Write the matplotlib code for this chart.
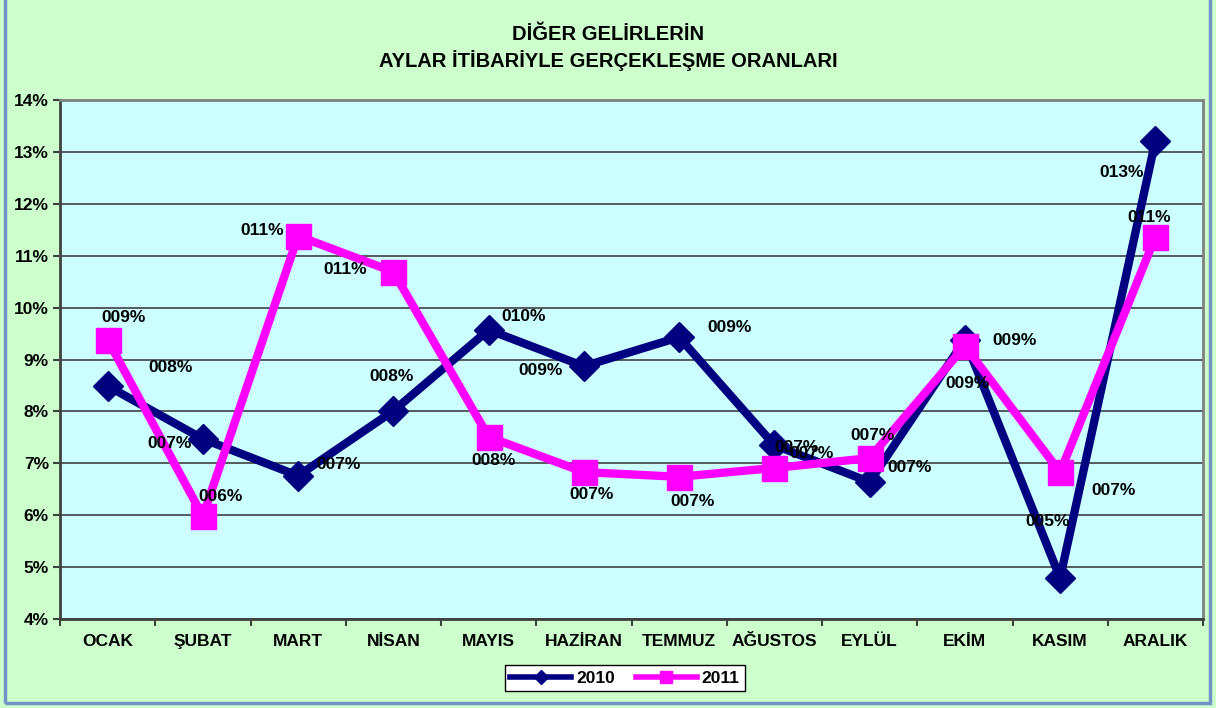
import matplotlib
matplotlib.use("Agg")
import matplotlib.pyplot as plt
from matplotlib.ticker import FixedLocator, FuncFormatter
from matplotlib.patches import Rectangle

plt.rcParams['font.family'] = ['Liberation Sans', 'DejaVu Sans']
plt.rcParams['font.weight'] = 'bold'

months = ["OCAK", "ŞUBAT", "MART", "NİSAN", "MAYIS", "HAZİRAN", "TEMMUZ",
          "AĞUSTOS", "EYLÜL", "EKİM", "KASIM", "ARALIK"]
y2010 = [8.49, 7.47, 6.76, 8.01, 9.57, 8.87, 9.43, 7.35, 6.64, 9.38, 4.79, 13.21]
y2011 = [9.38, 5.98, 11.38, 10.69, 7.51, 6.83, 6.74, 6.91, 7.10, 9.26, 6.83, 11.36]
series_names = ["2010", "2011"]
title = "DİĞER GELİRLERİN\nAYLAR İTİBARİYLE GERÇEKLEŞME ORANLARI"

# label offsets (pixels) for data labels
off2010 = [(63, 18), (-33, -5), (40, 11), (-2, 34), (35, 13), (-43, -4),
           (50, 10), (22, -2), (40, 14), (3, -44), (-13, 56), (-34, -31)]
off2011 = [(16, 22), (18, 20), (-36, 5), (-48, 2), (5, -24), (8, -22),
           (13, -25), (37, 14), (3, 23), (50, 6), (53, -18), (-6, 20)]

fig = plt.figure(figsize=(12.16, 7.08), dpi=100)
fig.patch.set_facecolor('#CCFFCC')
fig.patches.append(Rectangle((5/1216, 5/708), 1205/1216, 710/708, transform=fig.transFigure,
                             fill=False, edgecolor='#7094C8', linewidth=2.5, zorder=0))

ax = fig.add_axes([60/1216, 1 - 619/708, 1143/1216, 519/708])
ax.set_facecolor('#CCFFFF')

x = list(range(len(months)))
ax.plot(x, y2010, color='#000080', linewidth=6, marker='D', markersize=15,
        label=series_names[0], zorder=3)
ax.plot(x, y2011, color='#FF00FF', linewidth=6, marker='s', markersize=18,
        label=series_names[1], zorder=4)

def fmt(v):
    return "%03d%%" % round(v)

for xi, v, o in zip(x, y2010, off2010):
    ax.annotate(fmt(v), (xi, v), xytext=o, textcoords='offset pixels',
                ha='center', va='center', fontsize=12.5, fontweight='bold', zorder=5)
for xi, v, o in zip(x, y2011, off2011):
    ax.annotate(fmt(v), (xi, v), xytext=o, textcoords='offset pixels',
                ha='center', va='center', fontsize=12.5, fontweight='bold', zorder=5)

ax.set_xlim(-0.5, len(months) - 0.5)
ax.set_ylim(4, 14)
ax.yaxis.set_major_locator(FixedLocator(range(4, 15)))
ax.yaxis.set_major_formatter(FuncFormatter(lambda v, p: "%d%%" % v))
ax.grid(axis='y', color='#404040', linewidth=1.2, zorder=1)
ax.set_axisbelow(True)

ax.set_xticks(x)
ax.set_xticklabels(months, fontsize=12.5, fontweight='bold')
ax.set_xticks([i - 0.5 for i in range(len(months) + 1)], minor=True)
ax.tick_params(axis='x', which='major', length=0, pad=11)
ax.tick_params(axis='x', which='minor', length=5, width=1.5, color='#404040', direction='out')
ax.tick_params(axis='y', length=5, width=1.5, color='#404040', labelsize=12.5, pad=3)
for lab in ax.get_yticklabels():
    lab.set_fontweight('bold')

for s in ['top', 'right']:
    ax.spines[s].set_color('#808080')
    ax.spines[s].set_linewidth(2)
for s in ['left', 'bottom']:
    ax.spines[s].set_color('#404040')
    ax.spines[s].set_linewidth(2)

fig.text(0.5, 1 - 48/708, title, ha='center', va='center', fontsize=14.5,
         fontweight='bold', linespacing=1.35)

leg = ax.legend(loc='center', bbox_to_anchor=(625/1216, 1 - 678/708),
                bbox_transform=fig.transFigure, ncol=2, frameon=True, fancybox=False,
                edgecolor='black', facecolor='white', framealpha=1,
                prop={'weight': 'bold', 'size': 12.5}, markerscale=0.5,
                handlelength=3.5, columnspacing=1.2, borderpad=0.3, handletextpad=0.3)
for h in leg.legend_handles:
    h.set_linewidth(4)

fig.savefig('out.png', dpi=100, facecolor=fig.get_facecolor())
